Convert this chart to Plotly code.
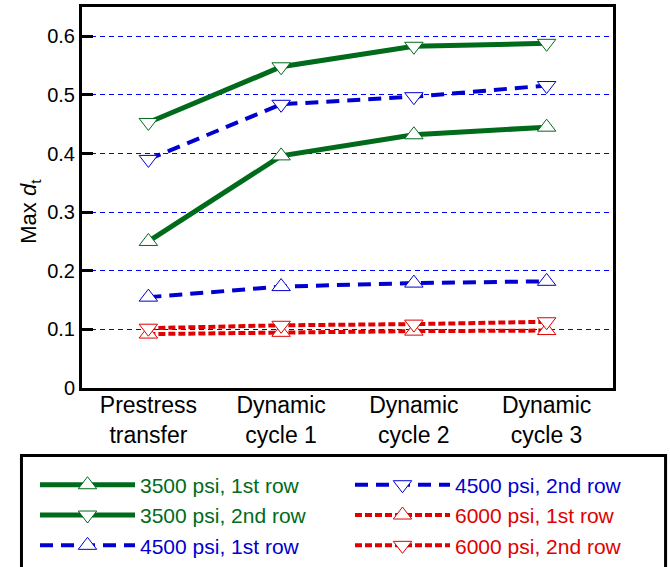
import plotly.graph_objects as go

categories = ["Prestress<br>transfer", "Dynamic<br>cycle 1", "Dynamic<br>cycle 2", "Dynamic<br>cycle 3"]
s3500_1st = [0.250, 0.396, 0.432, 0.445]
s3500_2nd = [0.453, 0.548, 0.583, 0.588]
s4500_1st = [0.155, 0.173, 0.179, 0.182]
s4500_2nd = [0.390, 0.484, 0.497, 0.516]
s6000_1st = [0.092, 0.095, 0.097, 0.098]
s6000_2nd = [0.102, 0.107, 0.109, 0.113]
yticks = [0, 0.1, 0.2, 0.3, 0.4, 0.5, 0.6]
ytick_labels = ["0", "0.1", "0.2", "0.3", "0.4", "0.5", "0.6"]
y_title = "Max <i>d</i><sub>t</sub>"

GREEN = "#006b1b"
BLUE = "#0000d0"
RED = "#e00000"

x = list(range(len(categories)))

def trace(y, name, color, dash, width, symbol, legend):
    return go.Scatter(
        x=x, y=y, mode="lines+markers", legend=legend,
        name=f"<span style='color:{color}'>{name}</span>",
        line=dict(color=color, width=width, dash=dash),
        marker=dict(symbol=symbol, size=16, color="white",
                    line=dict(color=color, width=1)),
    )

traces = [
    trace(s3500_1st, "3500 psi, 1st row", GREEN, "solid", 5, "triangle-up", "legend"),
    trace(s3500_2nd, "3500 psi, 2nd row", GREEN, "solid", 5, "triangle-down", "legend"),
    trace(s4500_1st, "4500 psi, 1st row", BLUE, "13px,8px", 4, "triangle-up", "legend"),
    trace(s4500_2nd, "4500 psi, 2nd row", BLUE, "13px,8px", 4, "triangle-down", "legend2"),
    trace(s6000_1st, "6000 psi, 1st row", RED, "7px,3px", 4, "triangle-up", "legend2"),
    trace(s6000_2nd, "6000 psi, 2nd row", RED, "7px,3px", 4, "triangle-down", "legend2"),
]

fig = go.Figure(traces)

leg_common = dict(
    orientation="v", y=-0.201, xanchor="left", yanchor="top",
    itemwidth=95, font=dict(size=21), bgcolor="rgba(0,0,0,0)",
    tracegroupgap=0, traceorder="normal",
)
fig.update_layout(
    width=670, height=567,
    margin=dict(l=82, r=57, t=7, b=179, autoexpand=False),
    plot_bgcolor="white", paper_bgcolor="white",
    font=dict(family="Liberation Sans, Arial, sans-serif", size=20, color="black"),
    showlegend=True,
    legend=dict(x=-0.0885, **leg_common),
    legend2=dict(x=0.5047, **leg_common),
)
fig.update_xaxes(
    range=[-0.5, 3.5], tickmode="array", tickvals=x, ticktext=categories,
    showline=True, linecolor="black", linewidth=3, mirror=True,
    showgrid=False, zeroline=False, ticks="", tickfont=dict(size=23),
    ticklabelstandoff=-6,
)
fig.update_yaxes(
    range=[0, 0.65], tickmode="array", tickvals=yticks, ticktext=ytick_labels,
    showline=True, linecolor="black", linewidth=3, mirror=True,
    ticks="inside", ticklen=11, tickwidth=3, tickcolor="black",
    showgrid=True, gridcolor="#0000ff", gridwidth=1, griddash="5px,4px",
    zeroline=False, tickfont=dict(size=20),
)
fig.add_annotation(text=y_title, xref="paper", yref="paper",
                   x=-0.098, y=0.465, textangle=-90, showarrow=False,
                   font=dict(size=22), xanchor="center", yanchor="middle")
fig.add_shape(type="rect", xref="paper", yref="paper",
              x0=-0.114, x1=1.099, y0=-0.62, y1=-0.177,
              line=dict(color="black", width=3), fillcolor="rgba(0,0,0,0)")
fig.write_html("out.html", post_script="document.body.style.margin='0';",
               config={"displayModeBar": False})
